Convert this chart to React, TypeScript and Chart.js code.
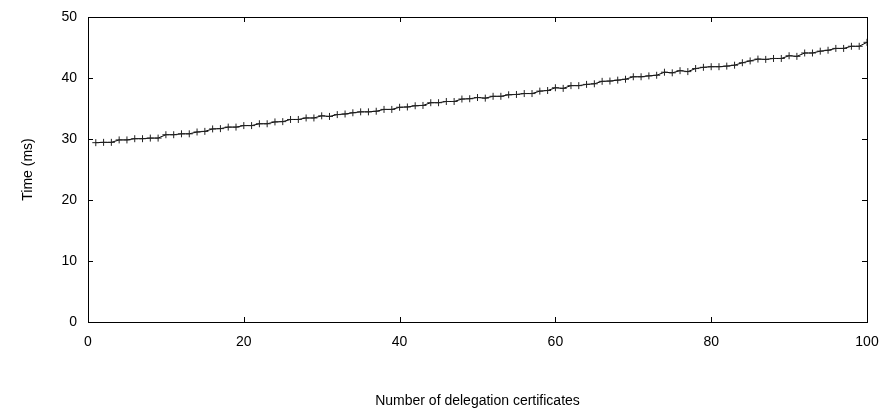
import React, { useEffect, useRef } from "react";
import { Chart, registerables } from "chart.js";

Chart.register(...registerables);

const certificateCounts: number[] = Array.from({ length: 100 }, (_, i) => i + 1);
const timeMs: number[] = [
  29.4, 29.45, 29.45, 29.85, 29.85, 30.05, 30.05, 30.15, 30.15, 30.7,
  30.7, 30.85, 30.85, 31.15, 31.25, 31.65, 31.7, 31.95, 31.95, 32.2,
  32.2, 32.5, 32.5, 32.8, 32.85, 33.2, 33.2, 33.45, 33.45, 33.8,
  33.7, 34.0, 34.1, 34.3, 34.45, 34.45, 34.55, 34.85, 34.85, 35.2,
  35.25, 35.45, 35.5, 35.95, 35.95, 36.15, 36.15, 36.55, 36.6, 36.8,
  36.7, 37.0, 37.0, 37.25, 37.3, 37.45, 37.45, 37.85, 37.95, 38.4,
  38.3, 38.75, 38.75, 38.95, 39.05, 39.45, 39.5, 39.65, 39.8, 40.2,
  40.2, 40.35, 40.45, 40.95, 40.85, 41.2, 41.05, 41.55, 41.75, 41.85,
  41.85, 41.95, 42.1, 42.5, 42.8, 43.1, 43.05, 43.2, 43.2, 43.65,
  43.55, 44.1, 44.1, 44.4, 44.55, 44.85, 44.85, 45.2, 45.2, 45.85,
];

const xTitle = "Number of delegation certificates";
const yTitle = "Time (ms)";
const xTickStep = 20;
const yTickStep = 10;

const FONT = "'Liberation Sans', Arial, Helvetica, sans-serif";

const framePlugin = {
  id: "gnuplotFrame",
  afterDraw(chart: any) {
    const { ctx, chartArea } = chart;
    const { left, right, top, bottom } = chartArea;
    const tick = 5;
    ctx.save();
    ctx.strokeStyle = "#000";
    ctx.lineWidth = 1;
    ctx.beginPath();
    const xs = chart.scales.x;
    const ys = chart.scales.y;
    xs.ticks.forEach((t: any) => {
      const px = Math.round(xs.getPixelForValue(t.value)) + 0.5;
      ctx.moveTo(px, bottom);
      ctx.lineTo(px, bottom - tick);
      ctx.moveTo(px, top);
      ctx.lineTo(px, top + tick);
    });
    ys.ticks.forEach((t: any) => {
      const py = Math.round(ys.getPixelForValue(t.value)) + 0.5;
      ctx.moveTo(left, py);
      ctx.lineTo(left + tick, py);
      ctx.moveTo(right, py);
      ctx.lineTo(right - tick, py);
    });
    ctx.stroke();
    ctx.strokeRect(Math.round(left) + 0.5, Math.round(top) + 0.5, Math.round(right - left), Math.round(bottom - top));
    ctx.restore();
  },
};

export default function App() {
  const canvasRef = useRef<HTMLCanvasElement | null>(null);

  useEffect(() => {
    document.body.style.margin = "0";
    const canvas = canvasRef.current;
    if (!canvas) return;
    const points = certificateCounts.map((x, i) => ({ x, y: timeMs[i] }));
    const chart = new Chart(canvas, {
      type: "line",
      data: {
        datasets: [
          {
            data: points,
            borderColor: "#000",
            backgroundColor: "#000",
            borderWidth: 1,
            pointStyle: "cross",
            pointRadius: 3.5,
            pointBorderWidth: 1,
            pointBorderColor: "#222",
            tension: 0,
            fill: false,
          },
        ],
      },
      options: {
        responsive: false,
        animation: false,
        layout: { padding: { top: 17, right: 17, left: 0, bottom: 0 } },
        plugins: {
          legend: { display: false },
          tooltip: { enabled: false },
        },
        scales: {
          x: {
            type: "linear",
            min: 0,
            max: 100,
            grid: { display: false, drawTicks: false },
            border: { display: false },
            ticks: {
              stepSize: xTickStep,
              color: "#000",
              padding: 12,
              maxRotation: 0,
              font: { family: FONT, size: 14 },
            },
            title: {
              display: true,
              text: xTitle,
              color: "#000",
              padding: { top: 4, bottom: 4 },
              font: { family: FONT, size: 14 },
            },
            afterFit(scale: any) {
              scale.height = 92;
              scale.paddingLeft = 0;
              scale.paddingRight = 0;
            },
          },
          y: {
            type: "linear",
            min: 0,
            max: 50,
            grid: { display: false, drawTicks: false },
            border: { display: false },
            ticks: {
              stepSize: yTickStep,
              color: "#000",
              padding: 11,
              font: { family: FONT, size: 14 },
            },
            title: {
              display: true,
              text: yTitle,
              color: "#000",
              padding: { top: 20, bottom: 4 },
              font: { family: FONT, size: 14 },
            },
            afterFit(scale: any) {
              scale.width = 88;
              scale.paddingTop = 0;
              scale.paddingBottom = 0;
            },
          },
        },
      },
      plugins: [framePlugin],
    });
    return () => chart.destroy();
  }, []);

  return (
    <div style={{ position: "fixed", left: 0, top: 0, width: 884, height: 414, background: "#fff" }}>
      <canvas ref={canvasRef} width={884} height={414} />
    </div>
  );
}
